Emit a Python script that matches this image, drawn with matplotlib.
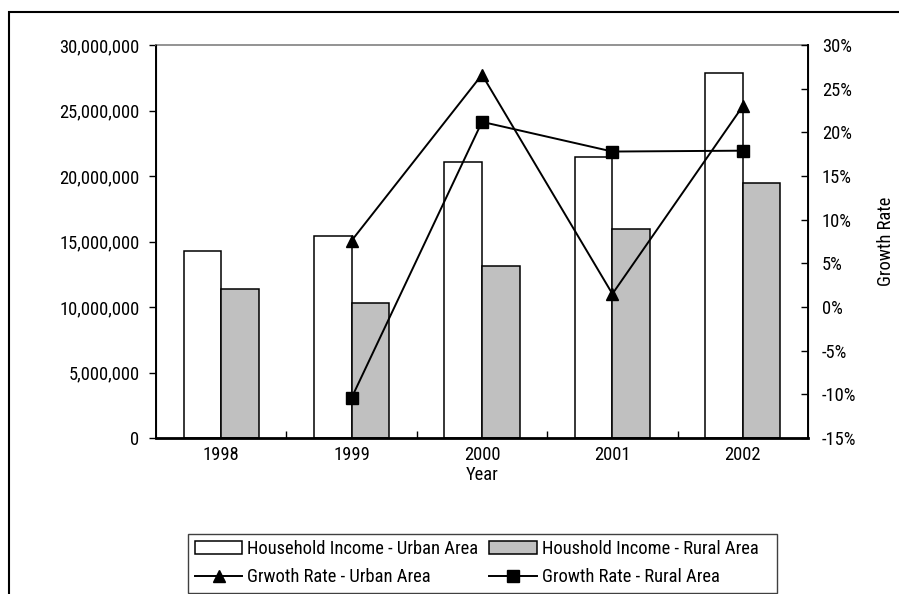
import matplotlib
matplotlib.use("Agg")
import matplotlib.pyplot as plt
import matplotlib.ticker as mticker
from matplotlib.patches import Rectangle
import numpy as np

plt.rcParams["font.family"] = ["Roboto Condensed", "Liberation Sans", "DejaVu Sans"]
plt.rcParams["font.size"] = 13.3

# Household income by year (currency units)
years = ["1998", "1999", "2000", "2001", "2002"]
income_urban = [14_300_000, 15_450_000, 21_100_000, 21_450_000, 27_900_000]
income_rural = [11_400_000, 10_300_000, 13_100_000, 15_980_000, 19_500_000]

# Year-on-year growth rates (%), first available for 1999
growth_years = ["1999", "2000", "2001", "2002"]
growth_urban = [7.6, 26.6, 1.5, 23.0]
growth_rural = [-10.4, 21.2, 17.8, 17.9]

W, H = 899, 594
fig = plt.figure(figsize=(W / 100, H / 100), dpi=100)
ax = fig.add_axes([156 / W, 1 - 438 / H, (808 - 156) / W, (438 - 45) / H])

x = np.arange(len(years))
bw = 0.288
b1 = ax.bar(x - bw / 2, income_urban, bw, color="white", edgecolor="black", linewidth=1.1,
            label="Household Income - Urban Area")
b2 = ax.bar(x + bw / 2, income_rural, bw, color="#c0c0c0", edgecolor="black", linewidth=1.1,
            label="Houshold Income - Rural Area")

ax.set_xlim(-0.5, len(years) - 0.5)
ax.set_ylim(0, 30_000_000)
ax.yaxis.set_major_locator(mticker.MultipleLocator(5_000_000))
ax.yaxis.set_major_formatter(mticker.FuncFormatter(lambda v, p: f"{int(v):,}"))
ax.set_xticks(x)
ax.set_xticklabels(years)
ax.set_xticks(np.arange(0.5, len(years) - 0.5, 1), minor=True)
ax.tick_params(axis="x", which="major", length=0, pad=6)
ax.tick_params(axis="x", which="minor", direction="in", length=5, width=1)
ax.tick_params(axis="y", direction="out", length=5, width=1, pad=7)
ax.set_xlabel("Year", labelpad=1)

for side in ("left", "bottom", "right"):
    ax.spines[side].set_color("black")
ax.spines["left"].set_linewidth(1.4)
ax.spines["bottom"].set_linewidth(2)
ax.spines["top"].set_color("#808080")
ax.spines["top"].set_linewidth(1.2)

ax2 = ax.twinx()
gx = [years.index(y) for y in growth_years]
l1, = ax2.plot(gx, np.array(growth_urban) / 100, color="black", linewidth=1.4,
               marker="^", markersize=8.5, label="Grwoth Rate - Urban Area")
l2, = ax2.plot(gx, np.array(growth_rural) / 100, color="black", linewidth=1.4,
               marker="s", markersize=8, label="Growth Rate - Rural Area")
ax2.set_ylim(-0.15, 0.30)
ax2.yaxis.set_major_locator(mticker.MultipleLocator(0.05))
ax2.yaxis.set_major_formatter(mticker.FuncFormatter(lambda v, p: f"{v * 100:.0f}%"))
ax2.tick_params(axis="y", direction="in", length=5, width=1, pad=10)
ax2.spines["right"].set_linewidth(1.4)
ax2.spines["top"].set_visible(False)
ax2.set_ylabel("Growth Rate", labelpad=15)

# legend entries without their own frame; the box is drawn separately below
fig.legend([b1, l1, b2, l2],
           [b1.get_label(), l1.get_label(), b2.get_label(), l2.get_label()],
           ncol=2, loc="upper left", bbox_to_anchor=(195 / W, 1 - 540 / H),
           frameon=False, handlelength=2.55, handletextpad=0.28, columnspacing=0.6,
           labelspacing=0.56, borderpad=0, borderaxespad=0)
fig.patches.append(Rectangle((188 / W, 1 - 593 / H), (777 - 188) / W, (593 - 534) / H,
                             transform=fig.transFigure, fill=False,
                             edgecolor="#404040", linewidth=1))

# chart frame around the whole figure
fig.patches.append(Rectangle((9 / W, -0.1), 1.2, 1.1 - 12 / H, transform=fig.transFigure,
                             fill=False, edgecolor="black", linewidth=1.5))

fig.savefig("out.png", dpi=100)
